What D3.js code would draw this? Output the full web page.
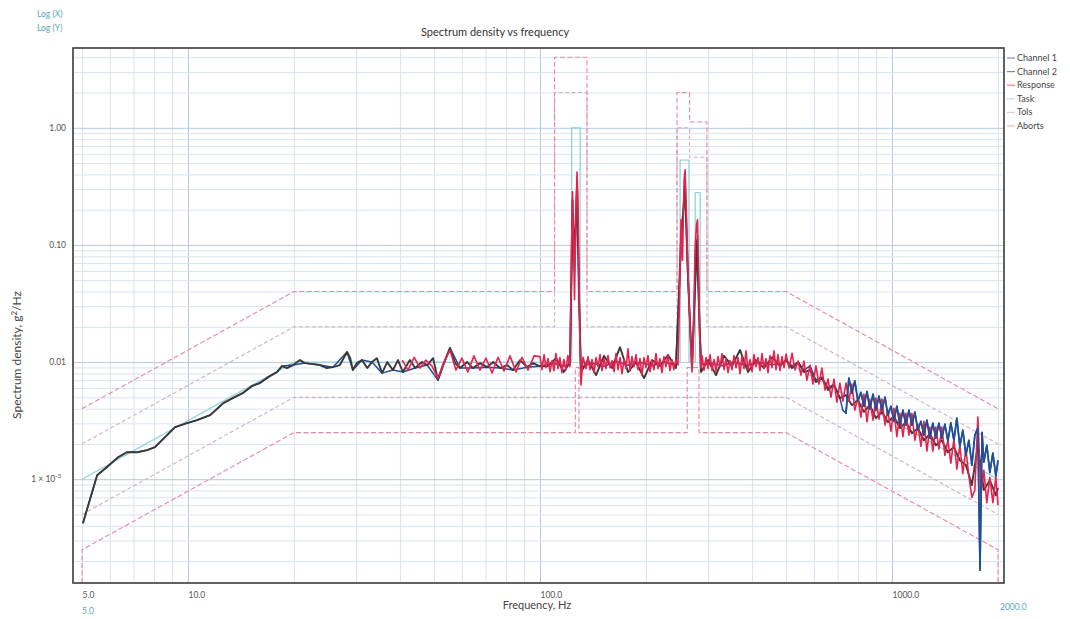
<!DOCTYPE html>
<html><head><meta charset="utf-8">
<script src="https://cdn.jsdelivr.net/npm/d3@7"></script>
<style>body{margin:0;background:#fff}svg{display:block;font-family:Lato,"Open Sans",sans-serif}</style>
</head><body><svg id="c" width="1070" height="619"></svg>
<script>
const xTickValues=[5,10,100,1000];
const xTickLabels=["5.0","10.0","100.0","1000.0"];
const yTickValues=[0.001,0.01,0.1,1];
const yTickLabels=["1 \u00d7 10","0.01","0.10","1.00"];
const seriesNames=["Channel 1","Channel 2","Response","Task","Tols","Aborts"];
const seriesColors=["#1f4f98","#3d3838","#e8224c","#8fd3dc","#cdb2bf","#e388a4"];

const channel1=[
[5.03,4.2e-4],[5.52,1.08e-3],[5.89,1.27e-3],[6.33,1.54e-3],[6.71,1.70e-3],[7.17,1.70e-3],[7.65,1.77e-3],[8.06,1.88e-3],[8.61,2.29e-3],[9.19,2.78e-3],[9.94,3.01e-3],[10.6,3.19e-3],[11.55,3.52e-3],[12.6,4.46e-3],[13.4,4.92e-3],[14.3,5.43e-3],[15.2,6.24e-3],[16.0,6.62e-3],[16.9,7.44e-3],[17.9,8.22e-3],[18.5,9.25e-3],[19.9,9.43e-3],[21.5,9.8e-3],[23.7,9.43e-3],[25.8,9.05e-3],[28.3,1.22e-2],[29.4,8.55e-3],[31.2,1.04e-2],[33.3,1.0e-2],[35.6,8.05e-3],[38.2,8.55e-3],[40.8,8.22e-3],[44.2,8.89e-3],[47.8,9.43e-3],[51.3,7.02e-3],[55.5,1.32e-2],[59.3,8.89e-3],[64.5,8.89e-3],[70.7,9.05e-3],[77.0,8.89e-3],[83.8,8.55e-3],[91.9,9.05e-3],[100,9.2e-3],
[108.2,0.0098],[116.9,0.0093],[121.7,0.0095],[123.7,0.15],[125.3,0.06],[127.4,0.25],[129.1,0.04],[130.7,0.009],[140,0.0098],[152,0.0092],[165,0.0101],[178,0.0094],[193,0.0099],[208,0.0093],[225,0.0100],[243,0.0095],[251.5,0.09],[258.3,0.30],[262.6,0.06],[270.3,0.009],[278.4,0.08],[280.2,0.12],[284,0.02],[288,0.0095],[305,0.0098],[330,0.0093],[355,0.0100],[385,0.0094],[420,0.0099],[455,0.0095],[486.6,0.0097],
[500,0.0104],[520,0.00927],[541,0.0100],[562,0.00855],[585,0.00927],[608,0.00702],[632,0.00745],[658,0.006],[684,0.00649],[711,0.00492],[725,0.00389],[740,0.00366],[754,0.0073],[769,0.00543],[784,0.0069],[800,0.00464],[816,0.00552],[832,0.0042],[849,0.00561],[865,0.00396],[883,0.00532],[900,0.00389],[918,0.00512],[936,0.00389],[955,0.00502],[973,0.00352],[993,0.0042],[1012,0.00312],[1032,0.0042],[1053,0.0029],[1074,0.00389],[1095,0.0029],[1117,0.00389],[1139,0.0029],[1161,0.00374],[1184,0.00262],[1208,0.00312],[1232,0.00238],[1256,0.00319],[1281,0.00224],[1306,0.00301],[1332,0.00224],[1359,0.00301],[1385,0.00224],[1413,0.00295],[1441,0.00211],[1469,0.00303],[1499,0.00215],[1528,0.00332],[1558,0.00191],[1589,0.00262],[1621,0.0016],[1653,0.00215],[1686,0.00132],[1719,0.00238],[1753,0.00273],[1778,0.000167],[1802,0.00251],[1823,0.0014],[1859,0.00195],[1896,0.00114],[1934,0.00167],[1972,0.00106],[2000,0.00145]
];

const channel2=[
[5.03,4.2e-4],[5.52,1.08e-3],[5.89,1.27e-3],[6.33,1.54e-3],[6.71,1.70e-3],[7.17,1.70e-3],[7.65,1.77e-3],[8.06,1.88e-3],[8.61,2.29e-3],[9.19,2.78e-3],[9.94,3.01e-3],[10.6,3.19e-3],[11.55,3.52e-3],[12.6,4.46e-3],[13.4,4.92e-3],[14.3,5.43e-3],[15.2,6.24e-3],[16.0,6.62e-3],[16.9,7.44e-3],[17.9,8.22e-3],[18.5,9.25e-3],[19.1,8.89e-3],[19.9,9.43e-3],[20.8,1.04e-2],[21.5,9.8e-3],[22.7,9.6e-3],[23.7,9.43e-3],[24.8,8.89e-3],[25.8,9.05e-3],[27.0,9.43e-3],[28.3,1.22e-2],[28.9,1.08e-2],[29.4,8.55e-3],[30.2,9.8e-3],[31.2,1.04e-2],[32.3,8.89e-3],[33.3,1.0e-2],[34.4,1.08e-2],[35.6,8.05e-3],[36.8,1.0e-2],[38.2,8.55e-3],[39.5,1.04e-2],[40.8,8.22e-3],[42.7,1.04e-2],[44.2,8.89e-3],[46.2,1.0e-2],[47.8,9.43e-3],[49.7,1.08e-2],[51.3,7.02e-3],[53.0,9.43e-3],[55.5,1.32e-2],[57.4,9.8e-3],[59.3,8.89e-3],[62.1,1.0e-2],[64.5,8.89e-3],[67.6,9.8e-3],[70.7,9.05e-3],[73.6,1.0e-2],[77.0,8.89e-3],[80.6,9.43e-3],[83.8,8.55e-3],[87.8,1.04e-2],[91.9,9.05e-3],[95.6,9.8e-3],[100,9.2e-3],
[105.4,0.00927],[111.0,0.01082],[116.9,0.00822],[121.7,0.0100],[123.7,0.242],[124.9,0.074],[127.4,0.326],[129.1,0.034],[130.7,0.00822],[136.9,0.0104],[144.3,0.00774],[152.0,0.0113],[160.2,0.00889],[168.8,0.0134],[177.8,0.00822],[187.4,0.0100],[197.5,0.0073],[208.1,0.0104],[219.2,0.00927],[231.0,0.01148],[243.4,0.00889],[251.5,0.110],[258.3,0.326],[263.4,0.0503],[270.3,0.00889],[278.4,0.110],[283.0,0.0279],[286.7,0.00822],[300.1,0.0104],[316.2,0.00774],[333.2,0.0113],[351.1,0.00927],[370.0,0.01267],[389.9,0.00822],[410.9,0.0104],[433.0,0.00889],[456.3,0.0110],[480.8,0.00927],
[500,0.0104],[520,0.00889],[541,0.0100],[562,0.00822],[585,0.00855],[608,0.00675],[632,0.0073],[658,0.00577],[684,0.00636],[711,0.00492],[740,0.00522],[769,0.00429],[800,0.00473],[832,0.00376],[865,0.00429],[900,0.00332],[936,0.00376],[973,0.00307],[1012,0.00345],[1053,0.00273],[1095,0.00307],[1139,0.00247],[1184,0.00273],[1232,0.00215],[1281,0.00243],[1332,0.00195],[1385,0.00215],[1441,0.0017],[1499,0.00188],[1558,0.00145],[1621,0.00132],[1686,0.00089],[1753,0.00195],[1823,0.00081],[1896,0.00098],[1972,0.00073],[2000,0.00084]
];

const response=[
[40.6,0.0104],[42.2,0.00855],[43.9,0.0110],[45.6,0.00889],[47.4,0.0104],[49.3,0.00927],[51.3,0.0073],[53.4,0.0100],[55.5,0.01267],[57.7,0.00855],[60.0,0.01082],[62.4,0.00822],[64.9,0.0113],[67.5,0.00855],[70.2,0.01082],[73.1,0.00806],[76.0,0.0110],[79.0,0.0084],[82.2,0.0113],[85.5,0.00822],[88.9,0.0110],[92.5,0.00855],[96.2,0.0113],
[100,0.01114],[101.3,0.00862],[102.7,0.01158],[104.0,0.00896],[105.4,0.01071],[106.8,0.00828],[108.2,0.01029],[109.6,0.00845],[111.0,0.0118],[112.5,0.00879],[113.9,0.01092],[115.4,0.00813],[116.9,0.0105],[118.5,0.00862],[120.0,0.01135],[121.6,0.00915],
[122.9,0.0906],[123.7,0.284],[124.5,0.110],[125.3,0.034],[126.6,0.199],[127.4,0.42],[128.2,0.242],[129.1,0.0503],[129.9,0.01397],[130.7,0.00636],[132.5,0.0110],
[135.1,0.00879],[136.9,0.01114],[138.7,0.00862],[140.5,0.0105],[142.4,0.00813],[144.3,0.01092],[146.2,0.00915],[148.1,0.01158],[150.0,0.00845],[152.0,0.01071],[154.0,0.00879],[156.0,0.01135],[158.1,0.00896],[160.2,0.01029],[162.3,0.00828],[164.4,0.0118],[166.6,0.00862],[168.8,0.01092],[171.0,0.00797],[173.3,0.0105],[175.5,0.00879],[177.8,0.0130],[180.2,0.00845],[182.5,0.01114],[184.9,0.00915],[187.4,0.01158],[189.8,0.00862],[192.3,0.01071],[194.8,0.0077],[197.4,0.01092],[200.0,0.00896],[202.6,0.01135],[205.3,0.00828],[208.0,0.01029],[210.7,0.00862],[213.5,0.0118],[216.3,0.00879],[219.1,0.01071],[222.0,0.00813],[224.9,0.01114],[227.9,0.00915],[230.9,0.01158],[233.9,0.00845],[237.0,0.0105],[240.1,0.00862],
[243.4,0.0104],[246.6,0.00943],[249.0,0.034],[251.5,0.164],[254.0,0.074],[256.6,0.359],[258.3,0.437],[260.0,0.242],[262.6,0.074],[265.1,0.034],[267.7,0.0154],[270.3,0.00822],[273.0,0.0188],[275.6,0.0906],[278.4,0.148],[280.2,0.164],[282.1,0.0611],[283.9,0.0188],[285.8,0.00889],[288.6,0.0113],[292.4,0.00855],
[296.3,0.01092],[300.2,0.00879],[304.1,0.01158],[308.1,0.00845],[312.2,0.0105],[316.3,0.00828],[320.4,0.01114],[324.7,0.00915],[328.9,0.0118],[333.3,0.00862],[337.6,0.01071],[342.1,0.00813],[346.6,0.01029],[351.1,0.00862],[355.7,0.01135],[360.4,0.00896],[365.2,0.01092],[370.0,0.00797],[374.8,0.01114],[379.8,0.00879],[384.8,0.0125],[389.8,0.00862],[395.0,0.0105],[400.2,0.00828],[405.4,0.01158],[410.8,0.00915],[416.2,0.01092],[421.6,0.00845],[427.2,0.0118],[432.8,0.00879],[438.5,0.01071],[444.3,0.00813],[450.1,0.01135],[456.1,0.00896],[462.1,0.0125],[468.2,0.00862],[474.3,0.01158],[480.6,0.00845],[486.9,0.01114],[493.3,0.00896],
[500,0.0117],[510,0.00889],[520,0.0119],[530,0.00855],[541,0.0102],[551,0.00774],[562,0.0102],[573,0.00702],[585,0.00943],[596,0.00649],[608,0.00927],[620,0.00649],[632,0.00889],[645,0.00577],[658,0.00716],[671,0.00502],[684,0.00716],[697,0.00455],[711,0.00662],[725,0.00464],[740,0.00662],[754,0.00464],[769,0.00649],[784,0.00389],[800,0.00502],[816,0.00339],[832,0.00532],[849,0.00309],[865,0.00483],[883,0.00319],[900,0.00492],[918,0.00325],[936,0.00483],[955,0.0029],[973,0.00389],[993,0.00256],[1012,0.00404],[1032,0.00231],[1053,0.00366],[1074,0.00231],[1095,0.00366],[1117,0.00238],[1139,0.00366],[1161,0.00215],[1184,0.00295],[1208,0.00191],[1232,0.00312],[1256,0.00174],[1281,0.00279],[1306,0.00174],[1332,0.00279],[1359,0.00181],[1385,0.00279],[1413,0.0016],[1441,0.00215],[1469,0.00137],[1499,0.0022],[1528,0.00122],[1558,0.00195],[1589,0.00112],[1621,0.00181],[1653,0.00106],[1686,0.0007],[1719,0.00081],[1753,0.0034],[1788,0.00073],[1823,0.00119],[1859,0.00063],[1896,0.00104],[1934,0.00063],[1972,0.00104],[2000,0.0006]
];

const task=[[5,0.001],[20,0.01],[123,0.01],[123,1.0],[130,1.0],[130,0.01],[250,0.01],[250,0.53],[265,0.53],[265,0.01],[276,0.01],[276,0.28],[285,0.28],[285,0.01],[500,0.01],[2000,0.001]];
const tolUpper=[[5,0.002],[20,0.02],[110,0.02],[110,2.0],[136,2.0],[136,0.02],[245,0.02],[245,1.0],[266,1.0],[266,0.56],[298,0.56],[298,0.02],[500,0.02],[2000,0.002]];
const tolLower=[[5,0.0005],[20,0.005],[500,0.005],[2000,0.0005]];
const abortUpper=[[5,0.004],[20,0.04],[110,0.04],[110,4.0],[136,4.0],[136,0.04],[245,0.04],[245,2.0],[266,2.0],[266,1.12],[298,1.12],[298,0.04],[500,0.04],[2000,0.004]];
const abortLower=[[5,0.0001],[5,0.00025],[20,0.0025],[126,0.0025],[126,0.009],[129,0.009],[129,0.0025],[262,0.0025],[262,0.009],[283,0.009],[283,0.0025],[500,0.0025],[2000,0.00025],[2000,0.0001]];

const svg=d3.select("#c");
const L=73,R=1004,T=48,B=583;
const x=d3.scaleLog().domain([5,2000]).range([82,998]);
const y=d3.scaleLog().domain([1.3e-4,4.8]).range([B,T]).clamp(true);

svg.append("rect").attr("width",1070).attr("height",619).attr("fill","#fff");

const gx=[],gy=[];
[1,10,100,1000].forEach(d=>{for(let m=1;m<=9;m++){const v=d*m;if(v>=5&&v<=2000)gx.push(v);}});
gx.push(2000);
[1e-4,1e-3,1e-2,1e-1,1].forEach(d=>{for(let m=1;m<=9;m++){const v=d*m;if(v>=1.3e-4&&v<=4.8)gy.push(v);}});
const isMajor=v=>Math.abs(Math.log10(v)-Math.round(Math.log10(v)))<1e-6;

const gridX=svg.append("g").attr("transform",`translate(0,${B})`)
 .call(d3.axisBottom(x).tickValues(gx).tickSize(-(B-T)).tickFormat(""));
gridX.select(".domain").remove();
gridX.selectAll("line").attr("stroke",d=>isMajor(d)?"#b8c8dc":"#d9e3ee").attr("stroke-width",1);
const gridY=svg.append("g").attr("transform",`translate(${L},0)`)
 .call(d3.axisLeft(y).tickValues(gy).tickSize(-(R-L)).tickFormat(""));
gridY.select(".domain").remove();
gridY.selectAll("line").attr("stroke",d=>isMajor(d)?"#b8c8dc":"#d9e3ee").attr("stroke-width",1);

const defs=svg.append("defs");
defs.append("clipPath").attr("id","plot").append("rect").attr("x",L).attr("y",T).attr("width",R-L).attr("height",B-T);
defs.append("clipPath").attr("id","hi").append("rect").attr("x",x(735)).attr("y",T).attr("width",R-x(735)).attr("height",B-T);

const line=d3.line().x(d=>x(d[0])).y(d=>y(d[1]));
const g=svg.append("g").attr("clip-path","url(#plot)");
function draw(data,color,w,dash,clip){
  const p=g.append("path").datum(data).attr("d",line).attr("fill","none")
   .attr("stroke",color).attr("stroke-width",w).attr("stroke-linejoin","round");
  if(dash)p.attr("stroke-dasharray",dash);
  if(clip)p.attr("clip-path",clip);
  return p;
}
draw(task,seriesColors[3],1.3);
draw(tolUpper,seriesColors[4],1.1,"4,2.5");
draw(tolLower,seriesColors[4],1.1,"4,2.5");
draw(abortUpper,seriesColors[5],1.1,"5,2.5");
draw(abortLower,seriesColors[5],1.1,"5,2.5");
draw(channel1,seriesColors[0],1.5);
draw(channel2,seriesColors[1],1.9);
draw(response,seriesColors[2],1.6);
draw(channel1,seriesColors[0],1.7,null,"url(#hi)");

svg.append("rect").attr("x",L).attr("y",T).attr("width",R-L).attr("height",B-T)
 .attr("fill","none").attr("stroke","#3a3a3a").attr("stroke-width",1.6);

const ya=svg.append("g").attr("transform",`translate(${L},0)`)
 .call(d3.axisLeft(y).tickValues(yTickValues).tickSize(0).tickPadding(7).tickFormat((d,i)=>yTickLabels[i]));
ya.select(".domain").remove();
ya.selectAll("text").attr("font-size",8.5).attr("fill","#555").attr("font-family","Lato,sans-serif");
ya.selectAll("text").filter((d,i)=>i===0).each(function(){
  d3.select(this).attr("dx",-5).append("tspan").attr("dy",-4).attr("font-size",6).text("-3");
});

const xa=svg.append("g").attr("transform",`translate(0,${B})`)
 .call(d3.axisBottom(x).tickValues(xTickValues).tickSize(0).tickPadding(9).tickFormat((d,i)=>xTickLabels[i]));
xa.select(".domain").remove();
xa.selectAll("text").attr("font-size",8.5).attr("fill","#555").attr("text-anchor","start").attr("font-family","Lato,sans-serif");

svg.append("text").attr("x",x(5)).attr("y",614).attr("font-size",8.5).attr("fill","#5aa9b5").text("5.0");
svg.append("text").attr("x",x(2000)+2).attr("y",610).attr("font-size",8.5).attr("fill","#5aa9b5").text("2000.0");
svg.append("text").attr("x",537).attr("y",609).attr("text-anchor","middle").attr("font-size",11).attr("fill","#444").text("Frequency, Hz");

svg.append("text").attr("x",37).attr("y",17).attr("font-size",8.5).attr("fill","#5aa9b5").text("Log (X)");
svg.append("text").attr("x",37).attr("y",31).attr("font-size",8.5).attr("fill","#5aa9b5").text("Log (Y)");
svg.append("text").attr("x",495).attr("y",36).attr("text-anchor","middle").attr("font-size",11).attr("fill","#333").text("Spectrum density vs frequency");
const yl=svg.append("text").attr("transform","translate(21,355) rotate(-90)").attr("text-anchor","middle").attr("font-size",12).attr("fill","#444");
yl.append("tspan").text("Spectrum density, g");
yl.append("tspan").attr("dy",-4).attr("font-size",8).text("2");
yl.append("tspan").attr("dy",4).text("/Hz");

const lg=svg.append("g");
seriesNames.forEach((n,i)=>{
  const yy=61+i*13.6;
  lg.append("line").attr("x1",1007).attr("x2",1015).attr("y1",yy-3).attr("y2",yy-3)
    .attr("stroke",seriesColors[i]).attr("stroke-width",1.2).attr("opacity",0.6);
  lg.append("text").attr("x",1017).attr("y",yy).attr("font-size",9).attr("fill","#444").text(n);
});
</script></body></html>
